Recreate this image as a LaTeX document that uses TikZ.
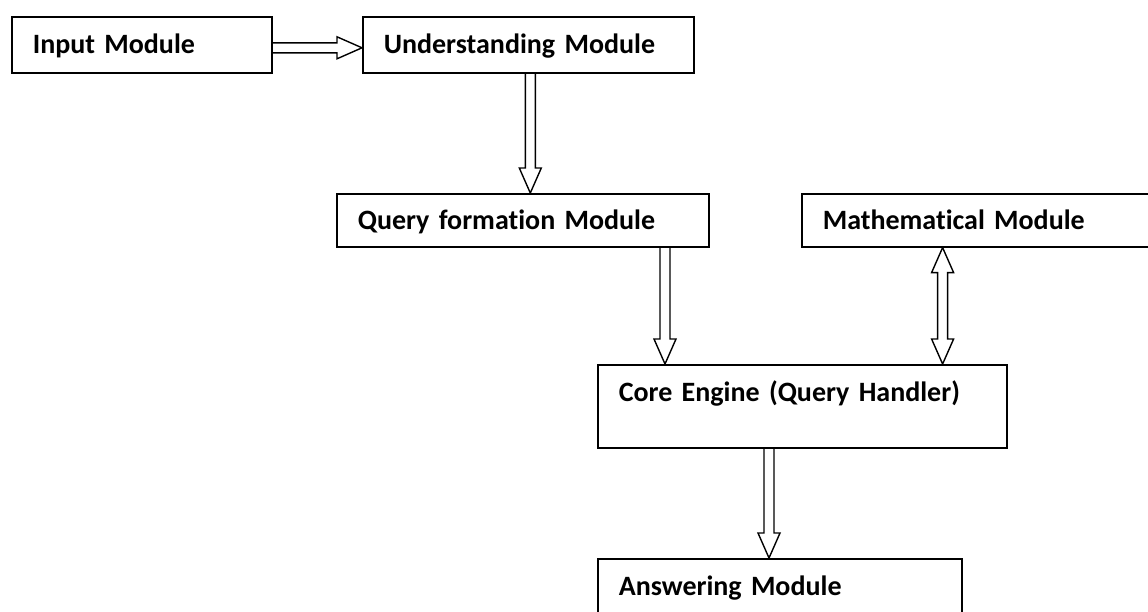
\documentclass[tikz,border=0pt]{standalone}
\usepackage{fontspec}
\setmainfont{Carlito}[Ligatures=NoCommon, WordSpace=0.7]
\usepackage{tikz}
\usetikzlibrary{calc}
\tikzset{
  modbox/.style={draw=black, line width=1.6pt, anchor=north west, inner xsep=21pt, inner ysep=0pt,
    align=left, text height=20pt, text depth=2pt, font=\fontsize{28}{32}\selectfont\bfseries},
  tallbox/.style={modbox, text height=16pt, text depth=25pt},
  flow/.style={draw=black, line width=1.4pt, line join=miter}
}
% hollow block arrow, tip at #2
\newcommand{\blockarrow}[2]{%
  \coordinate (hb) at ($(#2)!25pt!(#1)$);
  \draw[flow] ($(#1)!5pt!90:(#2)$) -- ($(hb)!5pt!-90:(#1)$) -- ($(hb)!11pt!-90:(#1)$) -- (#2)
    -- ($(hb)!11pt!90:(#1)$) -- ($(hb)!5pt!90:(#1)$) -- ($(#1)!5pt!-90:(#2)$);}
% hollow block arrow, tips at both ends
\newcommand{\twowayarrow}[2]{%
  \coordinate (ha) at ($(#1)!25pt!(#2)$);
  \coordinate (hb) at ($(#2)!25pt!(#1)$);
  \draw[flow] (#1) -- ($(ha)!11pt!90:(#2)$) -- ($(ha)!5pt!90:(#2)$) -- ($(hb)!5pt!-90:(#1)$)
    -- ($(hb)!11pt!-90:(#1)$) -- (#2) -- ($(hb)!11pt!90:(#1)$) -- ($(hb)!5pt!90:(#1)$)
    -- ($(ha)!5pt!-90:(#2)$) -- ($(ha)!11pt!-90:(#2)$) -- cycle;}

\begin{document}
\begin{tikzpicture}[x=1pt, y=-1pt]
  \fill[white] (0,0) rectangle (1148,611);
  \useasboundingbox (0,0) rectangle (1148,611);

  % modules
  \node[modbox, minimum width=260pt, minimum height=56pt, text width=218pt] (input) at (11,16) {Input Module};
  \node[modbox, minimum width=331pt, minimum height=56pt, text width=289pt] (underst) at (362,16) {Understanding Module};
  \node[modbox, minimum width=372pt, minimum height=53pt, text width=330pt, text height=21pt] (query) at (336,193) {Query formation Module};
  \node[modbox, minimum width=360pt, minimum height=53pt, text width=318pt, text height=21pt] (math) at (801,193) {Mathematical Module};
  \node[tallbox, minimum width=409pt, minimum height=83pt, text width=367pt] (core) at (597,364) {Core Engine (Query Handler)};
  \node[tallbox, minimum width=364pt, minimum height=83pt, text width=322pt, text depth=26pt] (answer) at (597,558) {Answering Module};

  % arrow ends
  \coordinate (inOut) at ([yshift=-3pt]input.east);
  \coordinate (unIn) at ([yshift=-3pt]underst.west);
  \coordinate (unOut) at ([xshift=2pt]underst.south);
  \coordinate (quIn) at (unOut |- query.north);
  \coordinate (coIn) at ([xshift=68pt]core.north west);
  \coordinate (quOut) at (query.south -| coIn);
  \coordinate (coMath) at ([xshift=-65pt]core.north east);
  \coordinate (maOut) at (math.south -| coMath);
  \coordinate (coOut) at ([xshift=172pt]core.south west);
  \coordinate (anIn) at (answer.north -| coOut);

  % connectors
  \blockarrow{inOut}{unIn}
  \blockarrow{unOut}{quIn}
  \blockarrow{quOut}{coIn}
  \twowayarrow{maOut}{coMath}
  \blockarrow{coOut}{anIn}
\end{tikzpicture}
\end{document}
